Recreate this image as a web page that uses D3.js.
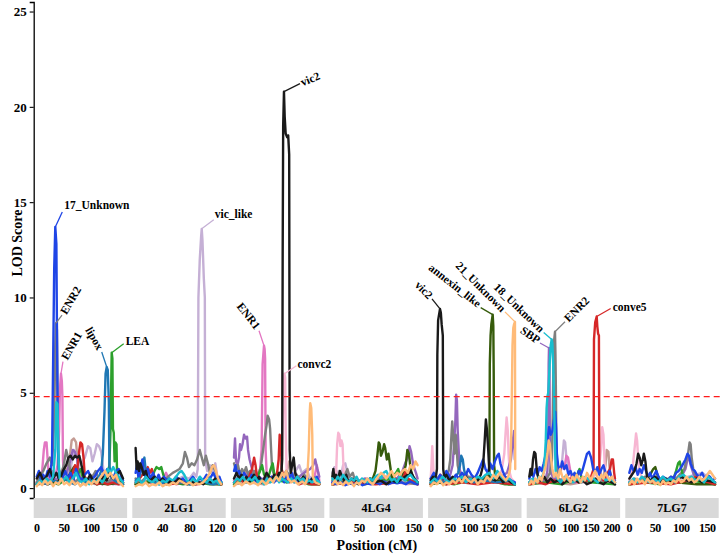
<!DOCTYPE html>
<html>
<head>
<meta charset="utf-8">
<script src="https://cdn.jsdelivr.net/npm/d3@7"></script>
<style>
  body { margin: 0; background: #fff; }
  text { font-family: "Liberation Serif", "Times New Roman", serif; font-weight: bold; }
</style>
</head>
<body>
<div class="chart"></div>
<script>
// linkage groups (facets), their x domains (cM) and tick labels
var groupNames = ["1LG6", "2LG1", "3LG5", "4LG4", "5LG3", "6LG2", "7LG7"];
var xDomains = [[-5.5, 165.4], [-4.9, 133.4], [-6.2, 180], [-5.2, 167.8], [-6.6, 232], [-6.3, 220.4], [-7.7, 172]];
var xTicks = [[0, 50, 100, 150], [0, 40, 80, 120], [0, 50, 100, 150], [0, 50, 100, 150],
              [0, 50, 100, 150, 200], [0, 50, 100, 150, 200], [0, 50, 100, 150]];
var yTicks = [0, 5, 10, 15, 20, 25];
var threshold = 4.8;

// traits, in drawing order, with their colours
var traitNames  = ["other", "vic_like", "convc2", "ENR1", "SBP", "ENR2", "LEA", "annexin_like", "conve5", "lipox", "17_Unknown", "vic2", "18_Unknown", "21_Unknown"];
var traitColors = ["#c49c94", "#c5b0d5", "#f7b6d2", "#e377c2", "#9467bd", "#7f7f7f", "#2ca02c", "#365b0b", "#d62728", "#1f77b4", "#1f45e6", "#1a1a1a", "#17becf", "#ffbb78"];

// LOD profiles per linkage group: [trait, [pos, lod, pos, lod, ...]]
var panel1LG6 = [
  ["17_Unknown", [0,0.6, 4,0.9, 8,0.4, 12,0.7, 16,0.5, 20,0.9, 24,0.6, 28,1.5, 30,6.5, 32,11.5, 34,13.7, 36,12.8, 37,8.5, 39,2.0, 41,0.7, 46,0.5, 52,0.9, 57,0.5, 62,0.8, 67,0.4, 72,1.0, 77,0.6, 82,0.4, 88,0.7, 94,0.9, 100,0.5, 106,0.6, 112,0.9, 118,1.1, 124,0.7, 129,1.0, 134,0.8, 140,0.5, 145,0.9, 150,1.0, 155,0.6, 158,0.4]],
  ["ENR2", [0,0.3, 6,0.6, 12,0.9, 18,1.3, 24,1.6, 28,1.2, 32,3.5, 34,7.5, 35.3,8.65, 37,8.3, 38.5,3.0, 40,1.0, 45,0.6, 50,1.3, 54,2.0, 58,1.5, 62,0.8, 66,0.5, 72,0.3, 78,0.6, 84,0.2, 90,0.4, 96,0.3, 102,0.6, 108,0.9, 114,0.4, 120,0.2, 126,0.5, 132,0.3, 138,0.6, 144,0.3, 150,0.5, 158,0.2]],
  ["ENR1", [0,0.3, 5,0.6, 10,0.9, 13,2.0, 15,2.4, 18,2.4, 20,1.5, 22,0.6, 26,0.4, 30,0.9, 34,0.6, 38,1.2, 41,3.0, 42.5,5.2, 44.4,6.0, 46,5.6, 47,4.8, 48,1.5, 50,0.6, 55,0.4, 60,0.7, 66,0.5, 72,0.3, 78,0.6, 84,0.4, 90,0.2, 96,0.5, 104,0.3, 112,0.4, 120,0.2, 130,0.3, 140,0.2, 150,0.4, 158,0.2]],
  ["18_Unknown", [0,0.2, 6,0.4, 12,0.3, 18,0.5, 24,0.3, 30,0.6, 34,2.0, 36,4.5, 38,4.4, 40,1.5, 42,0.5, 48,0.4, 54,0.6, 60,0.3, 66,0.5, 72,0.8, 78,0.4, 84,0.3, 90,0.5, 96,0.2, 102,0.4, 108,0.3, 114,0.5, 120,0.3, 126,0.6, 130,1.0, 135,0.8, 140,1.1, 145,0.8, 150,0.6, 155,0.4, 158,0.3]],
  ["lipox", [0,0.2, 10,0.3, 20,0.2, 30,0.4, 40,0.3, 50,0.5, 60,0.3, 70,0.2, 80,0.4, 90,0.3, 100,0.5, 108,0.4, 114,0.6, 118,0.9, 121,1.8, 124,4.0, 126,6.0, 128.1,6.35, 130,6.2, 132,4.5, 133,1.2, 136,0.6, 142,0.4, 148,0.3, 158,0.2]],
  ["LEA", [0,0.2, 10,0.4, 20,0.2, 30,0.3, 40,0.2, 50,0.4, 60,0.6, 65,0.9, 70,1.1, 75,0.7, 80,1.0, 85,0.5, 92,0.3, 100,0.4, 110,0.2, 120,0.3, 128,0.5, 133,1.2, 135,3.0, 137.2,7.1, 138.5,6.8, 139.5,3.1, 141,2.9, 142.5,1.4, 144,2.4, 146,2.3, 147,0.8, 150,0.4, 158,0.2]],
  ["vic2", [0,0.5, 6,0.8, 12,0.4, 18,0.6, 24,1.0, 30,0.5, 36,0.8, 42,0.4, 48,0.9, 54,1.2, 58,1.6, 62,1.7, 66,1.5, 70,1.7, 74,1.6, 78,1.7, 82,1.2, 86,0.6, 92,0.4, 98,0.7, 104,0.3, 110,0.5, 116,0.3, 122,0.6, 128,0.4, 134,0.8, 140,0.5, 146,0.7, 152,0.9, 158,0.5]],
  ["conve5", [0,0.2, 10,0.3, 20,0.2, 30,0.4, 40,0.3, 50,0.5, 60,0.4, 66,0.8, 70,1.2, 74,0.9, 78,2.0, 80,2.4, 83,2.3, 86,1.5, 88,0.6, 94,0.3, 100,0.4, 110,0.2, 120,0.3, 130,0.2, 140,0.3, 150,0.2, 158,0.3]],
  ["other", [0,0.2, 20,0.3, 40,0.5, 50,1.2, 55,0.8, 60,1.5, 64,2.5, 68,2.6, 72,2.4, 76,1.0, 80,0.5, 90,0.3, 110,0.2, 130,0.3, 158,0.2]],
  ["SBP", [0,0.3, 15,0.5, 30,0.4, 45,0.6, 55,0.8, 62,1.5, 66,2.0, 70,1.9, 74,1.5, 78,0.6, 90,0.3, 110,0.4, 130,0.3, 145,0.5, 158,0.3]],
  ["vic_like", [0,0.2, 20,0.3, 40,0.2, 55,0.5, 62,1.0, 68,2.0, 72,1.8, 80,1.2, 88,1.6, 94,2.2, 98,2.1, 102,1.4, 106,1.8, 110,2.3, 114,2.2, 118,1.9, 121,1.2, 124,0.5, 130,0.3, 145,0.2, 158,0.2]],
  ["annexin_like", [0,0.2, 30,0.3, 55,0.5, 62,0.8, 68,1.1, 72,0.9, 80,0.4, 100,0.3, 130,0.2, 158,0.3]],
  ["21_Unknown", [0,0.1, 5,0.3, 10,0.15, 15,0.4, 20,0.2, 25,0.35, 30,0.1, 35,0.3, 40,0.2, 45,0.5, 50,0.2, 55,0.3, 60,0.15, 65,0.4, 70,0.2, 75,0.3, 80,0.1, 85,0.25, 90,0.15, 95,0.35, 100,0.2, 105,0.4, 110,0.25, 115,0.5, 120,0.7, 125,0.9, 130,0.6, 135,0.8, 140,0.5, 145,0.7, 150,0.3, 155,0.2, 158,0.1]]
];

var panel2LG1 = [
  ["vic2", [0,2.1, 1.5,1.0, 3,1.4, 5,0.9, 7,1.3, 9,1.1, 12,0.7, 15,0.9, 18,0.5, 22,0.4, 28,0.6, 34,0.3, 40,0.5, 46,0.2, 52,0.4, 58,0.3, 64,0.5, 70,0.3, 76,0.2, 82,0.4, 88,0.2, 94,0.3, 100,0.2, 106,0.4, 112,0.3, 118,0.5, 124,0.3, 127,0.2]],
  ["17_Unknown", [0,0.8, 2,1.2, 4,0.6, 7,0.9, 10,1.5, 12,0.8, 15,0.6, 18,1.0, 22,0.5, 26,0.8, 30,0.4, 34,0.7, 38,0.3, 42,0.6, 46,0.4, 50,0.5, 55,0.3, 60,0.6, 65,0.4, 70,0.5, 75,0.3, 80,0.4, 85,0.6, 90,0.3, 95,0.5, 100,0.4, 105,0.7, 110,0.5, 115,0.8, 120,0.4, 124,0.6, 127,0.3]],
  ["lipox", [0,0.4, 6,0.6, 10,1.2, 13,1.6, 15,0.9, 18,0.5, 25,0.3, 35,0.2, 50,0.4, 65,0.3, 80,0.2, 100,0.3, 115,0.2, 127,0.3]],
  ["conve5", [0,0.3, 8,0.6, 14,0.9, 18,1.1, 21,0.8, 24,1.0, 27,0.5, 35,0.3, 50,0.2, 70,0.3, 90,0.2, 110,0.3, 127,0.2]],
  ["LEA", [0,0.2, 15,0.3, 24,0.5, 28,0.9, 31,1.1, 35,1.0, 38,1.1, 41,0.7, 44,0.4, 55,0.3, 70,0.2, 90,0.3, 110,0.2, 127,0.2]],
  ["ENR2", [0,0.5, 8,0.3, 16,0.6, 24,0.4, 32,0.5, 40,0.3, 48,0.6, 55,0.8, 60,0.9, 65,1.0, 70,1.3, 73,1.9, 76,1.6, 79,1.1, 83,1.3, 87,1.2, 91,1.5, 95,2.0, 98,1.6, 101,1.2, 104,1.7, 107,1.3, 110,0.8, 114,1.2, 118,0.9, 122,0.5, 127,0.3]],
  ["vic_like", [0,0.3, 10,0.2, 20,0.4, 30,0.3, 40,0.5, 50,0.3, 60,0.4, 70,0.6, 80,0.5, 86,0.8, 90,0.6, 92,1.0, 93,10.0, 95,12.0, 97,13.2, 97.9,13.6, 99,13.0, 101,11.0, 102.5,10.0, 103,1.5, 106,0.9, 110,1.2, 114,0.8, 118,1.3, 121,0.6, 124,0.4, 127,0.2]],
  ["18_Unknown", [0,0.3, 5,0.5, 10,0.2, 15,0.6, 20,0.4, 25,0.3, 30,0.5, 35,0.2, 40,0.4, 45,0.3, 50,0.5, 55,0.4, 60,0.6, 64,0.8, 68,0.9, 72,0.7, 76,0.4, 80,0.3, 85,0.5, 90,0.3, 95,0.6, 100,0.4, 105,0.3, 110,0.5, 115,0.3, 120,0.4, 124,0.2, 127,0.3]],
  ["ENR1", [0,0.2, 10,0.4, 20,0.3, 30,0.2, 40,0.5, 45,0.8, 50,0.4, 60,0.2, 75,0.3, 90,0.2, 100,0.4, 110,0.2, 127,0.2]],
  ["21_Unknown", [0,0.1, 5,0.2, 10,0.15, 15,0.3, 20,0.1, 25,0.2, 30,0.15, 35,0.3, 40,0.1, 45,0.2, 50,0.15, 55,0.3, 60,0.2, 65,0.4, 70,0.3, 75,0.2, 80,0.3, 85,0.15, 90,0.25, 95,0.2, 100,0.3, 105,0.5, 110,0.8, 113,1.1, 116,1.2, 119,0.9, 122,0.5, 125,0.3, 127,0.2]],
  ["annexin_like", [0,0.2, 20,0.3, 40,0.5, 60,0.3, 80,0.2, 100,0.3, 127,0.2]]
];

var panel3LG5 = [
  ["SBP", [0,1.6, 2,2.6, 4,1.4, 7,1.2, 10,1.6, 12,2.3, 14,2.0, 17,2.3, 20,2.8, 23,2.6, 26,2.7, 28,2.0, 31,1.5, 34,1.2, 38,0.8, 45,0.6, 55,0.5, 65,0.4, 75,0.6, 85,0.4, 95,0.5, 105,0.3, 115,0.6, 125,0.5, 135,0.7, 145,0.9, 152,1.0, 158,1.2, 162,1.5, 166,1.0, 170,0.6]],
  ["ENR2", [0,1.3, 4,0.9, 8,1.2, 12,0.7, 16,1.0, 20,0.8, 24,1.1, 28,0.7, 32,0.9, 36,0.6, 40,0.9, 45,0.7, 50,0.8, 54,1.2, 58,2.0, 62,2.8, 65,3.3, 67,3.8, 70,3.6, 72,3.1, 74,2.0, 76,1.0, 80,0.7, 86,0.5, 92,0.8, 98,0.6, 104,0.9, 110,0.7, 116,0.5, 122,0.8, 128,0.6, 134,0.4, 140,0.7, 146,0.5, 152,0.4, 158,0.6, 164,0.4, 170,0.3]],
  ["ENR1", [0,0.4, 8,0.6, 16,0.5, 24,0.8, 32,0.6, 40,0.9, 46,0.7, 52,1.0, 55,2.0, 57,6.5, 59.8,7.47, 61,7.3, 62,6.8, 63,2.0, 65,0.8, 70,0.5, 80,0.6, 90,0.4, 100,0.7, 110,0.5, 120,0.3, 130,0.5, 140,0.4, 150,0.3, 160,0.5, 165,1.2, 168,0.8, 170,0.4]],
  ["convc2", [0,0.3, 20,0.4, 40,0.3, 60,0.5, 80,0.4, 90,0.6, 95,0.8, 97,3.0, 99,5.5, 100.5,6.0, 102,5.8, 103,3.0, 105,0.7, 110,0.5, 120,0.3, 140,0.4, 160,0.3, 170,0.2]],
  ["vic2", [0,0.5, 5,0.8, 10,0.5, 15,0.7, 20,0.4, 25,0.6, 30,0.3, 35,0.5, 40,0.7, 45,0.4, 50,0.6, 55,0.3, 60,0.5, 65,0.8, 70,0.6, 75,0.4, 80,0.7, 85,0.5, 90,0.8, 94,0.6, 96,1.5, 97,12.0, 98,19.0, 99.6,20.8, 101,19.5, 103,18.6, 106,18.4, 108,18.5, 110,17.5, 111,2.0, 113,0.8, 116,1.2, 119,1.6, 122,0.8, 126,0.5, 132,0.3, 138,0.6, 144,0.4, 150,0.3, 156,0.5, 162,0.3, 170,0.2]],
  ["conve5", [0,0.3, 10,0.5, 20,0.3, 30,0.6, 36,1.0, 40,1.6, 43,1.2, 46,0.5, 55,0.3, 65,0.5, 75,0.4, 85,0.6, 89,1.5, 91,2.8, 93,2.6, 95,1.0, 100,0.5, 110,0.3, 120,0.4, 130,0.2, 140,0.3, 155,0.2, 170,0.2]],
  ["LEA", [0,0.2, 15,0.4, 30,0.3, 45,0.5, 52,0.9, 56,1.2, 60,0.7, 68,0.5, 73,1.0, 77,1.3, 80,0.8, 90,0.4, 105,0.3, 120,0.5, 135,0.3, 150,0.2, 170,0.2]],
  ["17_Unknown", [0,0.9, 3,1.2, 6,0.7, 10,0.9, 15,0.5, 20,0.8, 25,0.6, 30,0.4, 35,0.7, 40,0.5, 45,0.3, 50,0.6, 55,0.4, 60,0.3, 65,0.5, 70,0.4, 75,0.6, 80,0.3, 85,0.5, 90,0.4, 95,0.6, 100,0.3, 105,0.7, 110,0.5, 115,0.8, 120,0.4, 125,0.3, 130,0.5, 135,0.3, 140,0.4, 145,0.6, 150,0.3, 155,0.5, 160,0.4, 165,0.6, 170,0.3]],
  ["18_Unknown", [0,0.3, 6,0.5, 12,0.4, 18,0.6, 24,0.3, 30,0.5, 36,0.4, 42,0.6, 48,0.3, 54,0.4, 60,0.2, 66,0.5, 72,0.3, 78,0.4, 84,0.6, 90,0.3, 96,0.5, 102,0.4, 108,0.3, 114,0.5, 120,0.3, 126,0.6, 132,0.4, 138,0.5, 144,0.3, 150,0.4, 156,0.3, 162,0.5, 170,0.3]],
  ["21_Unknown", [0,0.1, 8,0.3, 16,0.15, 24,0.35, 32,0.2, 40,0.3, 48,0.15, 56,0.4, 64,0.2, 72,0.5, 78,0.3, 84,0.6, 90,0.4, 96,0.8, 100,0.6, 104,0.9, 108,0.5, 114,0.3, 120,0.4, 128,0.2, 136,0.35, 142,0.2, 146,0.5, 149,2.0, 151,4.0, 152,4.45, 154,4.2, 156,2.8, 157,0.6, 162,0.3, 170,0.2]],
  ["other", [0,0.2, 30,0.3, 60,0.2, 90,0.5, 105,0.8, 110,1.4, 113,1.2, 116,0.6, 130,0.3, 150,0.2, 170,0.2]],
  ["vic_like", [0,0.3, 30,0.5, 60,0.3, 90,0.4, 115,0.6, 125,1.0, 130,1.2, 135,0.8, 145,1.0, 150,0.6, 170,0.3]]
];

var panel4LG4 = [
  ["convc2", [0,0.4, 4,0.5, 7,0.8, 9,2.3, 11,2.9, 13,2.8, 15,2.2, 17,2.5, 19,2.3, 21,0.9, 24,0.4, 30,0.3, 40,0.5, 50,0.3, 60,0.2, 80,0.3, 100,0.2, 120,0.3, 140,0.2, 158,0.3]],
  ["vic2", [0,0.6, 2,1.0, 4,0.5, 7,0.7, 10,0.4, 14,0.9, 18,0.6, 22,0.4, 26,0.7, 30,0.3, 36,0.5, 42,0.4, 48,0.2, 54,0.4, 60,0.3, 70,0.5, 80,0.3, 90,0.4, 100,0.2, 110,0.4, 120,0.3, 130,0.5, 140,0.7, 145,0.9, 150,0.6, 155,0.4, 158,0.3]],
  ["annexin_like", [0,0.2, 20,0.3, 40,0.2, 60,0.4, 75,0.5, 80,0.9, 83,1.6, 86,2.4, 88,2.3, 90,1.7, 93,1.9, 96,2.3, 98,2.1, 101,1.5, 104,1.8, 107,1.2, 110,0.6, 120,0.4, 130,0.6, 136,1.2, 139,2.0, 142,1.8, 145,1.0, 150,0.5, 158,0.3]],
  ["SBP", [0,0.3, 20,0.4, 40,0.3, 60,0.5, 80,0.4, 100,0.6, 120,0.5, 130,0.9, 135,1.3, 140,1.6, 143,2.2, 146,1.9, 150,1.2, 155,0.8, 158,0.5]],
  ["vic_like", [0,0.8, 4,1.1, 8,0.7, 12,0.9, 16,0.6, 20,1.2, 24,1.3, 28,0.8, 32,0.5, 40,0.3, 60,0.4, 80,0.3, 100,0.5, 120,0.3, 140,0.4, 158,0.2]],
  ["ENR2", [0,0.4, 10,0.5, 20,0.4, 25,0.8, 28,1.0, 32,0.6, 38,0.8, 42,0.4, 55,0.3, 70,0.5, 90,0.3, 110,0.4, 130,0.3, 158,0.2]],
  ["17_Unknown", [0,0.3, 8,0.2, 16,0.3, 24,0.15, 32,0.25, 40,0.2, 48,0.3, 56,0.15, 64,0.25, 72,0.2, 80,0.3, 88,0.2, 96,0.35, 104,0.2, 112,0.3, 120,0.25, 128,0.3, 136,0.2, 144,0.35, 152,0.25, 158,0.2]],
  ["18_Unknown", [0,0.5, 5,0.3, 10,0.6, 15,0.4, 20,0.7, 25,0.5, 30,0.3, 35,0.5, 40,0.4, 45,0.6, 50,0.3, 55,0.5, 60,0.4, 65,0.3, 70,0.5, 75,0.4, 80,0.6, 85,0.7, 90,0.5, 95,0.8, 100,0.9, 105,0.6, 110,0.4, 115,0.5, 120,0.3, 125,0.6, 130,0.5, 135,0.4, 140,0.6, 145,0.7, 150,0.5, 155,0.4, 158,0.3]],
  ["21_Unknown", [0,0.2, 5,0.4, 10,0.2, 15,0.3, 20,0.15, 25,0.35, 30,0.2, 35,0.3, 40,0.1, 45,0.3, 50,0.2, 55,0.4, 60,0.3, 65,0.5, 70,0.3, 75,0.2, 80,0.4, 85,0.6, 90,0.8, 95,0.7, 100,0.5, 105,0.7, 110,0.9, 115,0.6, 120,0.8, 125,0.7, 130,0.9, 135,1.0, 140,0.8, 145,1.2, 150,1.0, 154,1.4, 158,1.2]],
  ["LEA", [0,0.2, 30,0.3, 60,0.2, 90,0.4, 110,0.5, 118,0.8, 122,1.0, 126,0.6, 140,0.4, 158,0.3]],
  ["conve5", [0,0.2, 40,0.3, 80,0.2, 120,0.3, 132,0.6, 136,0.9, 140,0.5, 158,0.2]]
];

var panel5LG3 = [
  ["vic2", [0,0.4, 6,0.6, 10,0.4, 14,0.7, 16,1.0, 17,7.0, 19,8.8, 23.8,9.4, 26,9.2, 28,8.6, 31,8.0, 32,1.0, 35,0.5, 40,0.7, 48,0.4, 56,0.6, 64,0.3, 72,0.5, 80,0.4, 90,0.6, 100,0.3, 110,0.5, 120,0.4, 128,0.7, 134,1.2, 138,2.5, 141,3.6, 144,3.0, 147,2.0, 150,0.8, 155,0.5, 165,0.4, 175,0.6, 185,0.3, 195,0.5, 205,0.3, 215,0.2]],
  ["SBP", [0,0.3, 10,0.5, 20,0.3, 30,0.6, 40,0.4, 50,0.7, 56,1.2, 60,2.4, 63,3.5, 65,4.9, 67,4.6, 69,3.0, 71,2.2, 74,1.0, 80,0.5, 90,0.4, 100,0.6, 120,0.3, 140,0.5, 160,0.4, 180,0.6, 195,0.8, 205,1.5, 210,2.5, 213,3.0, 215,1.5]],
  ["ENR2", [0,0.5, 10,0.3, 20,0.6, 30,0.4, 40,0.7, 46,0.9, 50,1.5, 53,2.8, 55,3.5, 58,2.6, 61,1.8, 64,2.8, 66,2.2, 69,1.2, 73,0.8, 80,0.5, 90,0.8, 100,0.4, 110,0.6, 120,0.3, 130,0.5, 140,0.4, 150,0.6, 160,0.3, 170,0.5, 180,0.4, 190,0.6, 200,0.3, 215,0.2]],
  ["convc2", [0,0.5, 2,1.2, 4,2.2, 6,1.4, 8,0.6, 12,0.4, 20,0.3, 40,0.4, 60,0.3, 80,0.5, 100,0.3, 120,0.4, 140,0.3, 160,0.5, 175,0.6, 182,1.0, 188,1.8, 191,2.8, 194,3.7, 197,3.0, 199,1.8, 202,0.8, 206,0.5, 215,0.3]],
  ["lipox", [0,0.3, 20,0.4, 40,0.3, 60,0.5, 70,0.8, 75,1.2, 78,1.7, 82,1.5, 85,1.0, 90,0.5, 110,0.3, 140,0.4, 170,0.3, 200,0.4, 215,0.2]],
  ["annexin_like", [0,0.2, 20,0.3, 40,0.2, 60,0.4, 80,0.3, 100,0.5, 120,0.3, 135,0.5, 145,0.6, 150,1.0, 151,6.5, 153,8.0, 155,8.6, 158.4,9.1, 160,8.5, 161,6.0, 162,1.2, 165,0.6, 170,0.4, 185,0.3, 200,0.2, 215,0.2]],
  ["17_Unknown", [0,0.5, 8,0.8, 16,0.4, 24,0.7, 32,0.5, 40,0.9, 48,0.6, 56,0.4, 64,0.7, 72,0.5, 80,0.8, 88,0.6, 96,1.0, 104,0.7, 112,0.5, 120,0.8, 128,1.2, 134,1.5, 140,1.0, 146,0.8, 152,1.3, 158,1.0, 164,1.4, 170,1.7, 174,1.8, 178,1.3, 184,0.9, 190,0.6, 198,0.5, 206,0.4, 215,0.3]],
  ["18_Unknown", [0,0.3, 10,0.5, 20,0.3, 30,0.6, 40,0.4, 50,0.3, 60,0.5, 70,0.4, 80,0.6, 90,0.3, 100,0.5, 110,0.4, 120,0.6, 130,0.5, 140,0.7, 150,0.8, 160,0.5, 170,0.9, 180,0.6, 190,0.4, 200,0.5, 210,0.3, 215,0.2]],
  ["21_Unknown", [0,0.1, 8,0.3, 16,0.2, 24,0.4, 32,0.15, 40,0.3, 48,0.2, 56,0.4, 64,0.25, 72,0.5, 80,0.3, 88,0.6, 96,0.4, 104,0.3, 112,0.5, 120,0.2, 128,0.4, 136,0.3, 144,0.6, 152,0.4, 160,0.7, 168,0.5, 176,0.8, 184,0.6, 192,0.4, 198,0.6, 203,1.0, 206,3.0, 209,7.5, 211,8.4, 213,8.6, 215.3,8.72, 216,1.0]],
  ["LEA", [0,0.2, 30,0.3, 60,0.2, 100,0.4, 140,0.5, 148,0.8, 152,0.6, 170,0.3, 190,0.2, 215,0.2]],
  ["conve5", [0,0.2, 20,0.5, 25,0.7, 30,0.4, 40,0.2, 80,0.3, 120,0.2, 160,0.3, 215,0.2]]
];

var panel6LG2 = [
  ["vic2", [0,0.6, 3,1.0, 6,0.7, 9,1.5, 12,1.9, 15,1.8, 18,1.0, 22,0.5, 28,0.4, 36,0.6, 44,0.3, 52,0.5, 60,0.3, 70,0.4, 80,0.2, 90,0.4, 100,0.3, 110,0.5, 120,0.3, 130,0.4, 140,0.2, 150,0.3, 160,0.5, 170,0.3, 180,0.2, 190,0.4, 200,0.3, 208,0.2]],
  ["ENR2", [0,0.3, 10,0.5, 20,0.3, 30,0.6, 40,0.4, 50,0.8, 55,1.5, 57,4.0, 59,7.5, 62.4,8.2, 63.5,7.0, 64.5,5.3, 65.5,3.0, 67,1.0, 70,0.5, 80,0.4, 90,0.6, 100,0.3, 120,0.5, 140,0.3, 160,0.4, 180,0.3, 200,0.5, 208,0.3]],
  ["SBP", [0,0.3, 15,0.4, 30,0.3, 40,0.5, 44,0.9, 46,3.0, 47,6.5, 47.8,7.35, 49,6.8, 50,2.0, 52,0.8, 60,0.5, 75,0.4, 90,0.6, 110,0.3, 130,0.5, 150,0.4, 170,0.3, 190,0.5, 208,0.3]],
  ["17_Unknown", [0,0.5, 5,0.8, 10,0.6, 15,1.0, 20,0.7, 25,1.1, 30,0.9, 35,1.3, 40,1.8, 44,2.5, 48,3.2, 52,2.8, 56,3.0, 60,3.6, 63,4.0, 65,3.2, 67,1.8, 70,1.2, 75,0.9, 80,1.4, 85,1.0, 90,1.2, 95,0.7, 100,0.9, 105,0.6, 110,0.8, 115,0.5, 120,0.9, 125,0.7, 130,1.0, 135,1.4, 140,1.8, 145,1.9, 150,1.6, 155,1.0, 160,0.8, 165,1.1, 170,0.7, 175,1.0, 180,1.2, 185,0.8, 190,0.6, 195,0.9, 200,0.5, 208,0.4]],
  ["18_Unknown", [0,0.3, 8,0.5, 16,0.3, 24,0.6, 30,0.5, 36,0.9, 40,2.5, 42,4.2, 44,4.8, 46,5.0, 48,5.8, 50,6.8, 52,7.5, 54.4,7.8, 56,7.6, 58,6.5, 60,4.8, 62,2.5, 64,0.9, 68,0.5, 76,0.3, 86,0.6, 96,0.4, 106,0.3, 116,0.5, 126,0.3, 136,0.6, 146,0.4, 156,0.5, 166,0.3, 176,0.6, 186,0.4, 196,0.5, 208,0.3]],
  ["21_Unknown", [0,0.2, 5,0.4, 10,0.2, 15,0.5, 20,0.3, 25,0.6, 30,0.4, 35,0.8, 40,1.2, 44,1.8, 47,2.5, 50,2.3, 53,1.5, 56,1.0, 60,0.6, 65,0.8, 70,0.5, 75,1.0, 80,0.6, 85,0.4, 90,0.7, 95,0.5, 100,0.3, 105,0.6, 110,0.4, 115,0.7, 120,0.5, 125,0.3, 130,0.6, 135,0.4, 140,0.8, 145,0.6, 150,0.4, 155,0.7, 160,0.9, 165,0.6, 170,0.4, 175,0.7, 180,0.5, 185,0.8, 190,0.6, 195,0.4, 200,0.6, 208,0.3]],
  ["ENR1", [0,0.2, 20,0.3, 40,0.4, 60,0.5, 75,0.8, 80,1.2, 85,1.0, 90,1.7, 94,1.6, 98,1.1, 102,0.6, 110,0.3, 130,0.4, 150,0.3, 170,0.5, 190,0.3, 208,0.2]],
  ["convc2", [0,0.2, 40,0.3, 80,0.4, 120,0.3, 150,0.5, 165,0.8, 170,1.2, 174,2.0, 177,3.2, 180,2.8, 183,1.2, 186,0.6, 195,0.4, 208,0.3]],
  ["vic_like", [0,0.3, 30,0.4, 60,0.6, 75,1.0, 80,1.5, 84,2.5, 87,2.4, 90,1.6, 94,1.2, 98,0.8, 110,0.5, 130,0.3, 160,0.4, 190,0.3, 208,0.2]],
  ["other", [0,0.2, 50,0.3, 100,0.2, 150,0.4, 180,0.6, 185,1.2, 188,2.0, 192,1.9, 195,1.0, 200,0.5, 208,0.3]],
  ["conve5", [0,0.2, 20,0.3, 40,0.2, 60,0.4, 80,0.3, 100,0.5, 120,0.3, 140,0.4, 150,0.6, 156,1.0, 157,7.8, 160,8.7, 163.6,9.0, 165,8.5, 167,8.1, 169,8.0, 170,1.0, 174,0.6, 180,0.4, 190,0.8, 196,1.0, 200,1.5, 203,1.5, 206,0.8, 208,0.5]],
  ["LEA", [0,0.2, 40,0.3, 80,0.2, 110,0.5, 118,0.8, 122,1.0, 126,0.6, 150,0.3, 208,0.2]]
];

var panel7LG7 = [
  ["convc2", [0,0.4, 5,0.8, 8,1.5, 11,2.3, 13,2.87, 15,2.5, 17,1.6, 19,1.0, 22,0.7, 26,0.5, 35,0.3, 50,0.4, 70,0.3, 90,0.4, 110,0.3, 130,0.4, 150,0.3, 165,0.2]],
  ["vic2", [0,0.5, 5,0.7, 10,0.9, 14,1.3, 17,1.8, 20,1.6, 23,1.2, 26,1.5, 28,1.8, 31,1.4, 34,0.6, 40,0.4, 50,0.6, 60,0.3, 70,0.5, 80,0.3, 90,0.4, 100,0.6, 110,0.4, 120,0.3, 130,0.5, 140,0.3, 150,0.4, 165,0.3]],
  ["ENR2", [0,0.3, 10,0.5, 20,0.4, 30,0.6, 40,0.3, 50,0.5, 60,0.3, 70,0.4, 80,0.6, 90,0.5, 100,0.8, 106,1.0, 110,1.5, 113,1.8, 116,2.4, 118,2.3, 120,1.6, 123,1.0, 128,0.6, 135,0.4, 145,0.5, 155,0.3, 165,0.2]],
  ["17_Unknown", [0,0.8, 4,1.2, 8,0.9, 12,1.1, 16,0.7, 20,1.0, 24,0.8, 28,1.2, 32,0.9, 36,0.6, 40,0.8, 44,0.5, 48,0.7, 52,0.9, 56,0.6, 60,0.4, 65,0.6, 70,0.5, 75,0.4, 80,0.6, 85,0.5, 90,0.8, 95,0.9, 100,1.1, 104,1.3, 108,1.5, 112,1.8, 115,1.7, 118,1.3, 122,1.0, 126,0.9, 130,0.7, 135,0.6, 140,0.8, 145,0.5, 150,0.7, 155,0.6, 160,0.4, 165,0.5]],
  ["SBP", [0,0.3, 20,0.4, 40,0.3, 60,0.5, 80,0.4, 100,0.6, 108,1.0, 112,1.5, 115,1.6, 118,1.2, 124,0.7, 140,0.4, 165,0.3]],
  ["LEA", [0,0.2, 30,0.3, 60,0.2, 85,0.5, 90,0.9, 94,1.3, 97,1.4, 100,1.0, 104,0.6, 120,0.4, 140,0.3, 165,0.2]],
  ["annexin_like", [0,0.2, 20,0.3, 35,0.5, 42,0.8, 46,1.0, 50,1.1, 54,0.7, 60,0.4, 90,0.3, 130,0.2, 165,0.2]],
  ["18_Unknown", [0,0.3, 8,0.5, 16,0.3, 24,0.6, 32,0.4, 40,0.3, 48,0.5, 56,0.3, 64,0.6, 72,0.4, 80,0.5, 88,0.3, 96,0.6, 104,0.7, 112,0.5, 120,0.6, 128,0.4, 136,0.5, 144,0.3, 152,0.6, 160,0.4, 165,0.3]],
  ["21_Unknown", [0,0.2, 5,0.4, 10,0.2, 15,0.5, 20,0.3, 25,0.4, 30,0.2, 35,0.5, 40,0.3, 45,0.4, 50,0.2, 55,0.3, 60,0.15, 65,0.4, 70,0.2, 75,0.3, 80,0.2, 85,0.4, 90,0.3, 95,0.5, 100,0.3, 105,0.4, 110,0.6, 115,0.4, 120,0.5, 125,0.3, 130,0.4, 135,0.6, 140,0.4, 145,0.5, 150,0.7, 155,0.9, 160,0.7, 165,0.5]],
  ["conve5", [0,0.2, 40,0.3, 80,0.2, 110,0.4, 130,0.6, 140,0.4, 165,0.2]],
  ["vic_like", [0,0.3, 30,0.4, 60,0.3, 100,0.5, 140,0.8, 150,0.6, 165,0.3]]
];

var panels = [panel1LG6, panel2LG1, panel3LG5, panel4LG4, panel5LG3, panel6LG2, panel7LG7];

// peak labels: [panel, trait, pos, lod, text, leader dx, leader dy, text dx, text dy, angle, anchor]
var peakLabels = [
  [0, "17_Unknown", 34, 13.7, "17_Unknown", 7, -15, 9, -22, 0, "start"],
  [0, "ENR2", 35.3, 8.65, "ENR2", 6, -8, 7, -10, -60, "start"],
  [0, "ENR1", 44.4, 6.0, "ENR1", 2, -12, 3, -15, -60, "start"],
  [0, "lipox", 128.1, 6.35, "lipox", -5, -15, -6, -18, 60, "end"],
  [0, "LEA", 137.2, 7.1, "LEA", 12, -9, 14, -12, 0, "start"],
  [1, "vic_like", 97.9, 13.6, "vic_like", 12, -9, 13, -15, 0, "start"],
  [2, "ENR1", 59.8, 7.47, "ENR1", -5, -15, -6, -18, 52, "end"],
  [2, "vic2", 99.6, 20.8, "vic2", 16, -8, 17, -9, -22, "start"],
  [2, "convc2", 100.5, 6.0, "convc2", 12, -8, 13, -10, 0, "start"],
  [4, "vic2", 23.8, 9.4, "vic2", -8, -10, -9, -12, 45, "end"],
  [4, "annexin_like", 158.4, 9.1, "annexin_like", -12, -7, -13, -10, 38, "end"],
  [4, "21_Unknown", 215.3, 8.72, "21_Unknown", -10, -10, -11, -12, 45, "end"],
  [5, "18_Unknown", 54.4, 7.8, "18_Unknown", -8, -7, -9, -9, 44, "end"],
  [5, "SBP", 47.8, 7.35, "SBP", -9, -5, -10, -7, 35, "end"],
  [5, "ENR2", 62.4, 8.2, "ENR2", 10, -10, 11, -12, -45, "start"],
  [5, "conve5", 163.6, 9.0, "conve5", 14, -8, 16, -10, 0, "start"]
];

var width = 720;
var height = 554;
var panelLeft = 33.7;
var panelStep = 98.6;
var panelWidth = 93.4;
var stripTop = 498;
var stripHeight = 20;

var color = d3.scaleOrdinal().domain(traitNames).range(traitColors);

var svg = d3.select(".chart")
  .append("svg")
  .attr("width", width)
  .attr("height", height)
  .style("display", "block");

var y = d3.scaleLinear()
  .domain([-0.52, 25.5])
  .range([498, 2]);

// y axis
var yAxis = svg.append("g")
  .attr("transform", "translate(" + panelLeft + ",0)")
  .call(d3.axisLeft(y).tickValues(yTicks).tickSize(4).tickPadding(3));
yAxis.select(".domain").attr("stroke", "#000").attr("stroke-width", 1.3);
yAxis.selectAll(".tick line").attr("stroke", "#000").attr("stroke-width", 1.1);
yAxis.selectAll(".tick text")
  .attr("fill", "#000")
  .style("font-size", "13px")
  .style("font-family", "'Liberation Serif', 'Times New Roman', serif")
  .style("font-weight", "bold");

svg.append("text")
  .attr("transform", "translate(17,243) rotate(-90)")
  .attr("text-anchor", "middle")
  .attr("dy", "0.35em")
  .style("font-size", "14px")
  .text("LOD Score");

var line = d3.line();
var xScales = [];

groupNames.forEach(function(name, i) {
  var x0 = panelLeft + i * panelStep;
  var x = d3.scaleLinear().domain(xDomains[i]).range([x0, x0 + panelWidth]);
  xScales.push(x);

  var g = svg.append("g").attr("class", "panel");

  // sort series by the global drawing order
  var series = panels[i].slice().sort(function(a, b) {
    return traitNames.indexOf(a[0]) - traitNames.indexOf(b[0]);
  });

  series.forEach(function(s) {
    var flat = s[1];
    var pts = [];
    for (var k = 0; k < flat.length; k += 2) pts.push([x(flat[k]), y(flat[k + 1])]);
    g.append("path")
      .attr("d", line(pts))
      .attr("fill", "none")
      .attr("stroke", color(s[0]))
      .attr("stroke-width", 2.4)
      .attr("stroke-linejoin", "round")
      .attr("stroke-linecap", "round");
  });

  // strip
  svg.append("rect")
    .attr("x", x0)
    .attr("y", stripTop)
    .attr("width", panelWidth)
    .attr("height", stripHeight)
    .attr("fill", "#d9d9d9");
  svg.append("text")
    .attr("x", x0 + panelWidth / 2)
    .attr("y", stripTop + stripHeight / 2)
    .attr("dy", "0.35em")
    .attr("text-anchor", "middle")
    .style("font-size", "12px")
    .text(name);

  // x tick labels
  svg.selectAll(null)
    .data(xTicks[i])
    .enter().append("text")
    .attr("x", function(d) { return x(d); })
    .attr("y", 532)
    .attr("text-anchor", "middle")
    .style("font-size", "12px")
    .style("letter-spacing", "-0.5px")
    .text(function(d) { return d; });
});

// threshold line
svg.append("line")
  .attr("x1", panelLeft)
  .attr("x2", width)
  .attr("y1", y(threshold))
  .attr("y2", y(threshold))
  .attr("stroke", "#ff1a1a")
  .attr("stroke-width", 1.4)
  .attr("stroke-dasharray", "6,4");

// peak labels with leader segments
peakLabels.forEach(function(l) {
  var x = xScales[l[0]];
  var px = x(l[2]);
  var py = y(l[3]);
  var c = color(l[1]);
  svg.append("line")
    .attr("x1", px)
    .attr("y1", py)
    .attr("x2", px + l[5])
    .attr("y2", py + l[6])
    .attr("stroke", c)
    .attr("stroke-width", 1.3);
  svg.append("text")
    .attr("transform", "translate(" + (px + l[7]) + "," + (py + l[8]) + ") rotate(" + l[9] + ")")
    .attr("text-anchor", l[10])
    .attr("dy", "0.35em")
    .style("font-size", "11.5px")
    .text(l[4]);
});

svg.append("text")
  .attr("x", (panelLeft + width) / 2)
  .attr("y", 545)
  .attr("dy", "0.35em")
  .attr("text-anchor", "middle")
  .style("font-size", "14px")
  .text("Position (cM)");
</script>
</body>
</html>
